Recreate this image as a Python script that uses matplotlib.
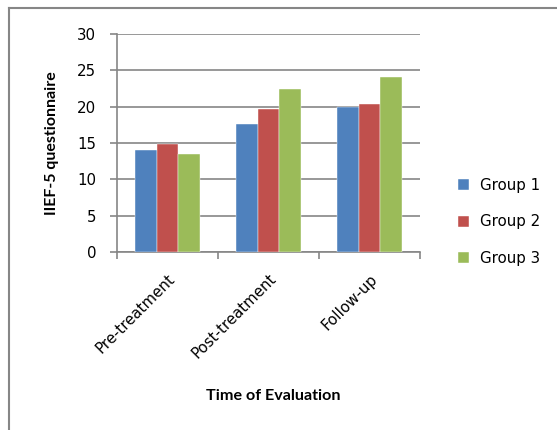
import matplotlib
matplotlib.use("Agg")
import matplotlib.pyplot as plt
import numpy as np
from matplotlib.lines import Line2D

categories = ["Pre-treatment", "Post-treatment", "Follow-up"]
groups = ["Group 1", "Group 2", "Group 3"]
group1 = [14.0, 17.6, 20.0]
group2 = [14.8, 19.7, 20.4]
group3 = [13.5, 22.5, 24.1]
yticks = [0, 5, 10, 15, 20, 25, 30]
colors = ["#4F81BD", "#C0504D", "#9BBB59"]

plt.rcParams['font.family'] = ['DejaVu Sans']
fig = plt.figure(figsize=(5.57, 4.30), dpi=100)
ax = fig.add_axes([117/557, 1-252/430, (420-117)/557, (252-34)/430])

x = np.arange(len(categories))
w = 0.216
for i, (vals, c, lab) in enumerate(zip([group1, group2, group3], colors, groups)):
    ax.bar(x + (i-1)*w, vals, w, color=c, label=lab, zorder=3,
           edgecolor='white', linewidth=0.3)

ax.set_xlim(-0.5, 2.5)
ax.set_ylim(0, 30)
ax.set_yticks(yticks)
ax.set_yticklabels([str(t) for t in yticks], fontsize=10.8)
ax.yaxis.grid(True, color='#868686', linewidth=1.2, zorder=0)
ax.set_axisbelow(True)
for s in ['top', 'right']:
    ax.spines[s].set_visible(False)
for s in ['left', 'bottom']:
    ax.spines[s].set_color('#868686')
    ax.spines[s].set_linewidth(1.2)
ax.tick_params(axis='y', length=5, color='#868686', width=1.2, pad=10)

ax.set_xticks([-0.5, 0.5, 1.5, 2.5])
ax.set_xticklabels([])
ax.tick_params(axis='x', which='major', length=5, color='#868686', width=1.2)
ax.set_xticks(x, minor=True)
ax.set_xticklabels(categories, minor=True, rotation=45, ha='right',
                   rotation_mode='anchor', fontsize=10.8)
ax.tick_params(axis='x', which='minor', length=0, pad=14)

ax.set_ylabel("IIEF-5 questionnaire", fontsize=11.5, fontweight='bold', family='Lato')
ax.yaxis.set_label_coords(-0.19, 0.5)
fig.text(273/557, 1-396/430, "Time of Evaluation", fontsize=11.6, fontweight='bold',
         family='Lato', ha='center', va='center')

ax.legend(loc='center left', bbox_to_anchor=(1.08, 0.138), frameon=False, fontsize=10.8,
          handlelength=0.75, handleheight=0.75, labelspacing=1.45, handletextpad=0.75)

fig.add_artist(Line2D([9/557, 9/557], [0, 1-8/430], transform=fig.transFigure,
                      color='#868686', linewidth=1.5))
fig.add_artist(Line2D([9/557, 1], [1-8/430, 1-8/430], transform=fig.transFigure,
                      color='#868686', linewidth=1.5))

fig.savefig("out.png", dpi=100)
